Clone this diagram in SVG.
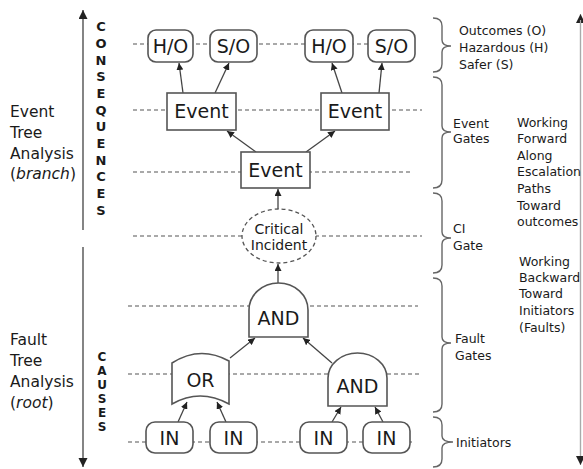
<svg xmlns="http://www.w3.org/2000/svg" width="583" height="469" viewBox="0 0 583 469">
<style>
text{font-family:"DejaVu Sans","Liberation Sans",sans-serif;fill:#1a1a1a}
.lvl{stroke:#555;stroke-width:1.2;stroke-dasharray:4 3;fill:none}
.box{fill:#fff;stroke:#555;stroke-width:1.6}
.conn{stroke:#444;stroke-width:1.3;fill:none;marker-end:url(#ah)}
.axis{stroke:#666;stroke-width:1.6;fill:none}
.brace{stroke:#666;stroke-width:1.4;fill:none}
.lbl{font-size:19px;text-anchor:middle}
.side{font-size:15.5px}
.vert{font-size:13px;text-anchor:middle;font-weight:600}
.vert2{font-size:12px;text-anchor:middle;font-weight:600}
.note{font-size:12.5px}
</style>
<defs>
<marker id="ah" markerUnits="userSpaceOnUse" markerWidth="8" markerHeight="7" refX="7" refY="3.5" orient="auto">
<path d="M0,0 L7,3.5 L0,7 z" fill="#222"/>
</marker>
<marker id="axh" markerUnits="userSpaceOnUse" markerWidth="10" markerHeight="10" refX="9" refY="4.5" orient="auto">
<path d="M0,0 L9,4.5 L0,9 z" fill="#222"/>
</marker>
</defs>

<g id="levels">
<line class="lvl" x1="133" y1="44" x2="413" y2="44"/>
<line class="lvl" x1="133" y1="110" x2="422" y2="110"/>
<line class="lvl" x1="133" y1="172" x2="410" y2="172"/>
<line class="lvl" x1="133" y1="236" x2="422" y2="236"/>
<line class="lvl" x1="128" y1="306" x2="418" y2="306"/>
<line class="lvl" x1="128" y1="374" x2="422" y2="374"/>
<line class="lvl" x1="128" y1="442" x2="413" y2="442"/>
</g>

<g id="axes">
<line class="axis" x1="83" y1="230" x2="83" y2="10" marker-end="url(#axh)"/>
<line class="axis" x1="83" y1="247" x2="83" y2="467" marker-end="url(#axh)"/>
<line x1="580.5" y1="458" x2="580.5" y2="14" stroke="#aaa" stroke-width="1.2" marker-end="url(#axh)"/>
<line x1="580.5" y1="20" x2="580.5" y2="465" stroke="#aaa" stroke-width="1.2" marker-end="url(#axh)"/>
</g>

<g id="left-labels">
<text class="side" x="10" y="117">Event</text>
<text class="side" x="10" y="138">Tree</text>
<text class="side" x="10" y="159">Analysis</text>
<text class="side" x="10" y="179">(<tspan font-style="italic">branch</tspan>)</text>
<text class="side" x="10" y="345">Fault</text>
<text class="side" x="10" y="366">Tree</text>
<text class="side" x="10" y="387">Analysis</text>
<text class="side" x="10" y="408">(<tspan font-style="italic">root</tspan>)</text>
</g>

<g id="consequences-label">
<text class="vert" x="101" y="31">C</text>
<text class="vert" x="101" y="48">O</text>
<text class="vert" x="101" y="65">N</text>
<text class="vert" x="101" y="81">S</text>
<text class="vert" x="101" y="98">E</text>
<text class="vert" x="101" y="115">Q</text>
<text class="vert" x="101" y="131">U</text>
<text class="vert" x="101" y="148">E</text>
<text class="vert" x="101" y="165">N</text>
<text class="vert" x="101" y="181">C</text>
<text class="vert" x="101" y="198">E</text>
<text class="vert" x="101" y="215">S</text>
</g>
<g id="causes-label">
<text class="vert2" x="102" y="361">C</text>
<text class="vert2" x="102" y="375">A</text>
<text class="vert2" x="102" y="389">U</text>
<text class="vert2" x="102" y="403">S</text>
<text class="vert2" x="102" y="417">E</text>
<text class="vert2" x="102" y="431">S</text>
</g>

<g id="braces">
<path class="brace" d="M433,18 Q442,18 442,26 V40 Q442,46 451,46 Q442,46 442,52 V64 Q442,72 433,72"/>
<path class="brace" d="M433,77 Q442,77 442,85 V126 Q442,132 451,132 Q442,132 442,138 V180 Q442,188 433,188"/>
<path class="brace" d="M433,193 Q442,193 442,201 V232 Q442,238 451,238 Q442,238 442,244 V265 Q442,273 433,273"/>
<path class="brace" d="M433,278 Q442,278 442,286 V337 Q442,343 451,343 Q442,343 442,349 V404 Q442,412 433,412"/>
<path class="brace" d="M433,417 Q442,417 442,425 V436 Q442,442 453,442 Q442,442 442,448 V459 Q442,467 433,467"/>
</g>

<g id="right-labels">
<text class="note" x="459" y="35">Outcomes (O)</text>
<text class="note" x="459" y="52">Hazardous (H)</text>
<text class="note" x="459" y="69">Safer (S)</text>
<text class="note" x="453" y="128">Event</text>
<text class="note" x="453" y="143">Gates</text>
<text class="note" x="453" y="233">CI</text>
<text class="note" x="453" y="250">Gate</text>
<text class="note" x="455" y="343">Fault</text>
<text class="note" x="455" y="360">Gates</text>
<text class="note" x="456" y="447">Initiators</text>
<text class="note" x="517" y="127">Working</text>
<text class="note" x="517" y="143">Forward</text>
<text class="note" x="517" y="160">Along</text>
<text class="note" x="517" y="176">Escalation</text>
<text class="note" x="517" y="193">Paths</text>
<text class="note" x="517" y="210">Toward</text>
<text class="note" x="517" y="226">outcomes</text>
<text class="note" x="519" y="266">Working</text>
<text class="note" x="519" y="282">Backward</text>
<text class="note" x="519" y="298">Toward</text>
<text class="note" x="519" y="315">Initiators</text>
<text class="note" x="519" y="332">(Faults)</text>
</g>

<g id="connectors">
<line class="conn" x1="183" y1="93" x2="179" y2="63"/>
<line class="conn" x1="215" y1="93" x2="229" y2="63"/>
<line class="conn" x1="342" y1="93" x2="332" y2="63"/>
<line class="conn" x1="379" y1="93" x2="382" y2="63"/>
<line class="conn" x1="256" y1="152" x2="227" y2="131"/>
<line class="conn" x1="306" y1="152" x2="335" y2="131"/>
<line class="conn" x1="278" y1="209" x2="278" y2="189"/>
<line class="conn" x1="278" y1="283" x2="278" y2="264"/>
<line class="conn" x1="230" y1="358" x2="255" y2="338"/>
<line class="conn" x1="332" y1="363" x2="303" y2="338"/>
<line class="conn" x1="178" y1="422" x2="187" y2="402"/>
<line class="conn" x1="226" y1="422" x2="217" y2="402"/>
<line class="conn" x1="332" y1="422" x2="341" y2="407"/>
<line class="conn" x1="383" y1="422" x2="375" y2="407"/>
</g>

<g id="outcome-ho1"><rect class="box" x="148" y="30" width="45" height="32" rx="8"/><text class="lbl" x="170.5" y="53" font-size="21">H/O</text></g>
<g id="outcome-so1"><rect class="box" x="210" y="30" width="47" height="32" rx="8"/><text class="lbl" x="233.5" y="53" font-size="21">S/O</text></g>
<g id="outcome-ho2"><rect class="box" x="305" y="30" width="48" height="32" rx="8"/><text class="lbl" x="329" y="53" font-size="21">H/O</text></g>
<g id="outcome-so2"><rect class="box" x="368" y="30" width="47" height="32" rx="8"/><text class="lbl" x="391.5" y="53" font-size="21">S/O</text></g>

<g id="event-left"><rect class="box" x="167" y="93" width="69" height="37"/><text class="lbl" x="201.5" y="118">Event</text></g>
<g id="event-right"><rect class="box" x="321" y="93" width="68" height="37"/><text class="lbl" x="355" y="118">Event</text></g>
<g id="event-mid"><rect class="box" x="241" y="152" width="69" height="36"/><text class="lbl" x="275.5" y="177">Event</text></g>

<g id="critical-incident">
<ellipse cx="279" cy="236" rx="37" ry="27" fill="#fff" stroke="#555" stroke-width="1.3" stroke-dasharray="4 3"/>
<text x="279" y="234" font-size="14" text-anchor="middle">Critical</text>
<text x="279" y="250" font-size="14" text-anchor="middle">Incident</text>
</g>

<g id="and-top">
<path class="box" d="M249,337 V310 A29.5,27 0 0 1 308,310 V337 Z"/>
<text class="lbl" x="278.5" y="325">AND</text>
</g>
<g id="and-right">
<path class="box" d="M328,406 V378 A29.5,25 0 0 1 387,378 V406 Z"/>
<text class="lbl" x="357.5" y="393">AND</text>
</g>
<g id="or-gate">
<path class="box" d="M172,363 Q200,345 229,361 V404 Q200,388 172,404 Z"/>
<text class="lbl" x="200.5" y="387">OR</text>
</g>

<g id="in1"><rect class="box" x="146" y="422" width="47" height="31" rx="9"/><text class="lbl" x="169.5" y="445" font-size="20">IN</text></g>
<g id="in2"><rect class="box" x="210" y="422" width="47" height="31" rx="9"/><text class="lbl" x="233.5" y="445" font-size="20">IN</text></g>
<g id="in3"><rect class="box" x="300" y="422" width="47" height="31" rx="9"/><text class="lbl" x="323.5" y="445" font-size="20">IN</text></g>
<g id="in4"><rect class="box" x="363" y="422" width="47" height="31" rx="9"/><text class="lbl" x="386.5" y="445" font-size="20">IN</text></g>
</svg>
